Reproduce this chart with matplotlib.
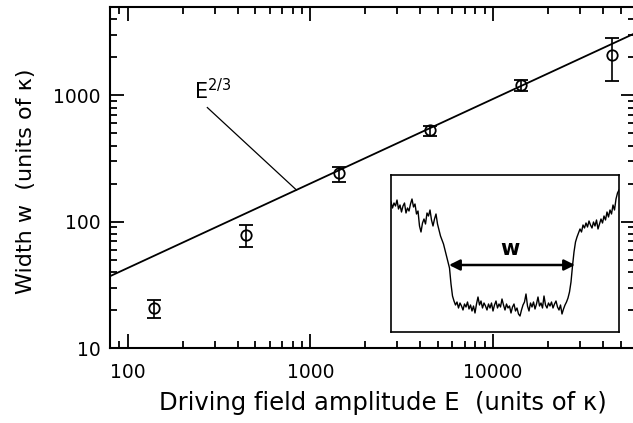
import numpy as np
import matplotlib.pyplot as plt
from matplotlib.ticker import NullFormatter

plt.rcParams['font.family'] = ['DejaVu Sans']

# measured widths
E = [140, 445, 1430, 4500, 14200, 45000]
w = [20.7, 79, 243, 527, 1200, 2075]
w_lo = [17.3, 62.5, 205, 476, 1081, 1297]
w_hi = [24, 93.6, 271, 570, 1315, 2820]

# E^(2/3) guide line end points
fit_E = [80, 60000]
fit_w = [37, 3100]

trace_y = [130, 124, 129, 126, 132, 123, 127, 120, 126, 129, 119, 124, 121, 128, 133, 125,
           128, 118, 121, 106, 100, 109, 113, 108, 119, 116, 122, 112, 106, 113, 118,
           108, 102, 96, 92, 88, 82, 76, 70, 64, 48, 36, 31,
           27, 30, 24, 29, 26, 22, 28, 25, 30, 23, 27, 21, 26, 19, 28, 35, 27, 31, 24, 29,
           26, 22, 28, 24, 29, 21, 27, 31, 24, 28, 25, 33, 27, 22, 28, 24, 26, 19, 25, 28,
           21, 24, 18, 16, 22, 27, 30, 38, 26, 21, 29, 25, 30, 23, 28, 35, 26, 29, 24, 36,
           27, 24, 29, 26, 30, 24, 28, 31, 25, 22, 27, 18, 23, 27, 30, 34,
           40, 50, 66, 80, 90, 95, 99, 103,
           100, 107, 104, 109, 105, 111, 107, 104, 110, 106, 112, 103, 108, 113, 109, 116,
           112, 120, 115, 122, 118, 127, 122, 133, 139, 142]
trace_x = np.linspace(0, 228, len(trace_y))

fig = plt.figure(figsize=(6.33, 4.23), dpi=100)
ax = fig.add_axes([110 / 633, 1 - 348 / 423, 525 / 633, 341 / 423])

ax.plot(fit_E, fit_w, color='black', lw=1.3, zorder=2)
yerr = [np.array(w) - np.array(w_lo), np.array(w_hi) - np.array(w)]
ax.errorbar(E, w, yerr=yerr, fmt='o', ms=7.5, mfc='none', mec='black', mew=1.3,
            ecolor='black', elinewidth=1.2, capsize=5, capthick=1.2, zorder=3)

ax.set_xscale('log')
ax.set_yscale('log')
ax.set_xlim(80, 60000)
ax.set_ylim(10, 5000)
ax.set_xticks([100, 1000, 10000], ['100', '1000', '10000'])
ax.set_yticks([10, 100, 1000], ['10', '100', '1000'])
ax.xaxis.set_minor_formatter(NullFormatter())
ax.yaxis.set_minor_formatter(NullFormatter())
ax.tick_params(which='both', direction='in', top=True, right=True, width=1.3)
ax.tick_params(which='major', length=10, labelsize=13.5)
ax.tick_params(axis='x', which='major', pad=11)
ax.tick_params(axis='y', which='major', pad=7)
ax.tick_params(which='minor', length=5)
for s in ax.spines.values():
    s.set_linewidth(1.5)

ax.set_xlabel('Driving field amplitude E  (units of κ)', fontsize=17.5)
ax.set_ylabel('Width w  (units of κ)', fontsize=16)
ax.xaxis.set_label_coords(0.52, -0.125)
ax.yaxis.set_label_coords(-0.14, 0.49)

ax.text(230, 930, '$\\mathregular{E^{2/3}}$', fontsize=15, ha='left', va='baseline')
ax.plot([273, 840], [800, 178], color='black', lw=0.9)

# inset
ins = fig.add_axes([391 / 633, 1 - 332 / 423, 228 / 633, 157 / 423])
ins.plot(trace_x, trace_y, color='black', lw=1.0)
ins.set_xlim(0, 228)
ins.set_ylim(0, 157)
ins.set_xticks([])
ins.set_yticks([])
for s in ins.spines.values():
    s.set_linewidth(1.2)
ins.annotate('', xy=(58, 67), xytext=(184, 67),
             arrowprops=dict(arrowstyle='<|-|>', color='black', lw=1.8, mutation_scale=16,
                             shrinkA=0, shrinkB=0))
ins.text(119, 83, 'w', fontsize=15, fontweight='bold', ha='center', va='center')

fig.savefig('out.png', dpi=100)
